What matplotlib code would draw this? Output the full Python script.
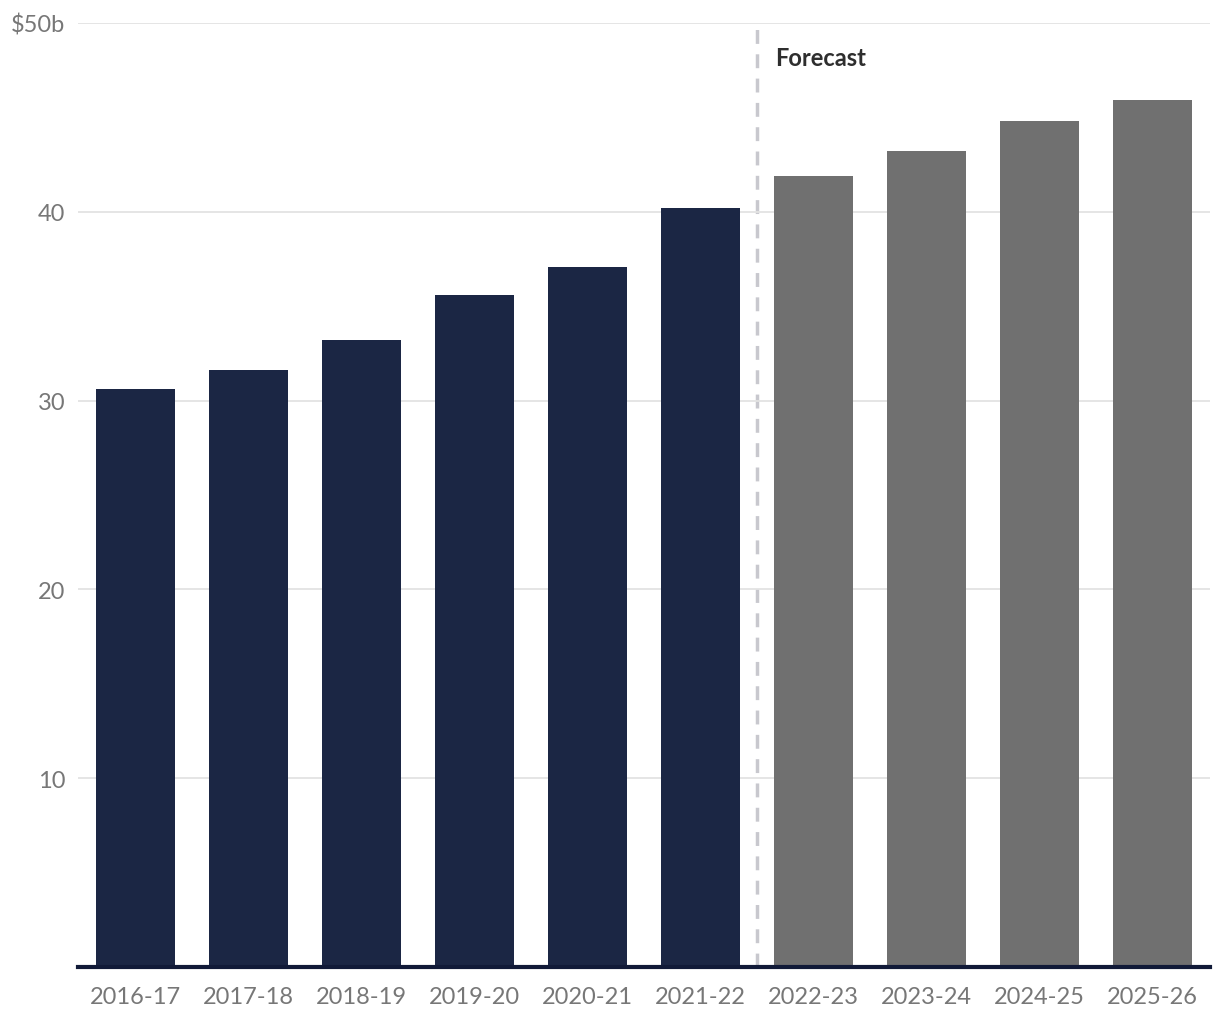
import matplotlib
matplotlib.use("Agg")
import matplotlib.pyplot as plt
import numpy as np

plt.rcParams['font.family'] = ['Lato', 'DejaVu Sans']

# Data ($ billions)
years = ['2016-17', '2017-18', '2018-19', '2019-20', '2020-21', '2021-22',
         '2022-23', '2023-24', '2024-25', '2025-26']
values = [30.6, 31.6, 33.2, 35.6, 37.1, 40.2, 41.9, 43.2, 44.8, 45.9]
is_forecast = [False] * 6 + [True] * 4
y_ticks = [10, 20, 30, 40, 50]
y_tick_labels = ['10', '20', '30', '40', '$50b']

actual_color = '#1b2644'
forecast_color = '#707070'

fig = plt.figure(figsize=(12.2, 10.2), dpi=100)
ax = fig.add_axes([78 / 1220, 52 / 1020, (1210 - 78) / 1220, (968 - 24) / 1020])

x = np.arange(len(years))
colors = [forecast_color if f else actual_color for f in is_forecast]
ax.bar(x, values, width=0.70, color=colors, zorder=2)

ax.set_xlim(-0.51, len(years) - 0.49)
ax.set_ylim(0, 50)

ax.set_yticks(y_ticks)
ax.set_yticklabels(y_tick_labels)
ax.set_xticks(x)
ax.set_xticklabels(years)

ax.grid(axis='y', color='#e3e3e3', linewidth=1.3, zorder=0)
ax.tick_params(axis='both', length=0, labelsize=17, colors='#777777')
ax.tick_params(axis='y', pad=9)
ax.tick_params(axis='x', pad=14)

for side in ['top', 'right', 'left']:
    ax.spines[side].set_visible(False)
ax.spines['bottom'].set_color('#111a38')
ax.spines['bottom'].set_linewidth(3)
ax.spines['bottom'].set_zorder(3)

# forecast divider
split = 5.5
ax.axvline(split, color='#c8c8ce', linewidth=2.5, linestyle=(0, (4, 3)), zorder=1)
ax.text(split + 0.16, 48.15, 'Forecast', fontsize=17, fontweight='bold',
        color='#2e2e2e', va='center', ha='left')

fig.savefig('out.png', dpi=100)
